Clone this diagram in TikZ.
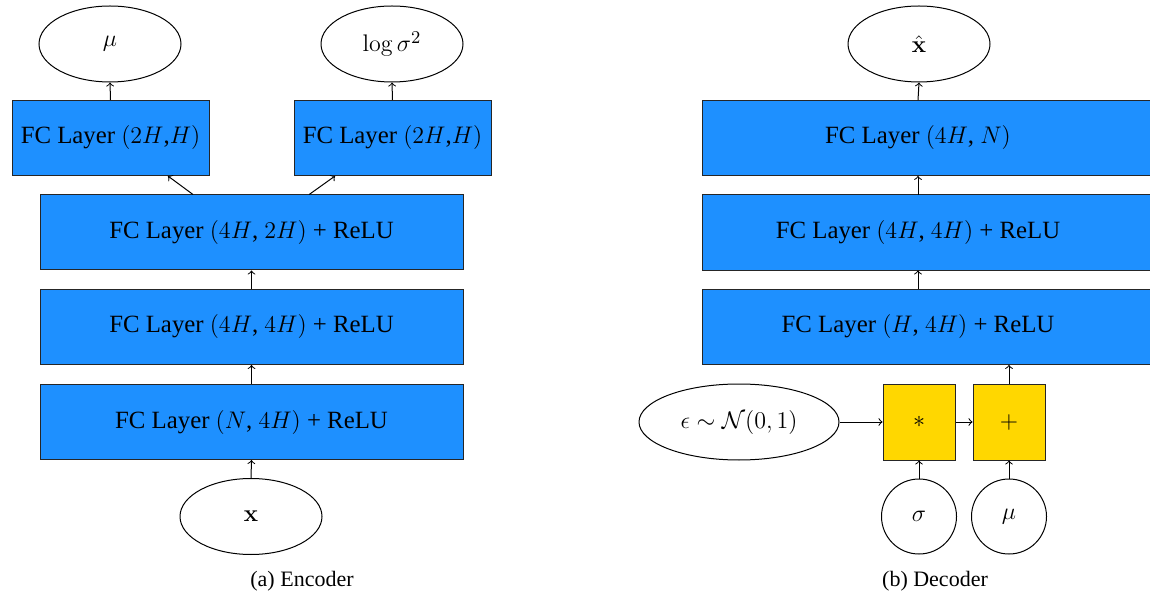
\documentclass[tikz,border=0pt]{standalone}
\usepackage[no-math]{fontspec}
\setmainfont{Liberation Serif}
\usetikzlibrary{shapes.geometric,calc,backgrounds}
\begin{document}
\begin{tikzpicture}[x=0.5pt,y=-0.5pt,
  every node/.style={font=\fontsize{12.4}{15}\selectfont},
  layer/.style={draw=black!85,fill=fcblue,line width=0.5pt,minimum width=211.5pt,minimum height=37.5pt,inner sep=0pt},
  smalllayer/.style={layer,minimum width=98.5pt},
  declayer/.style={minimum width=215pt,minimum height=37.5pt,inner sep=0pt},
  op/.style={draw=black!85,fill=opyellow,line width=0.5pt,minimum width=36pt,minimum height=38pt,inner sep=0pt},
  oval/.style={draw,ellipse,line width=0.5pt,minimum width=71pt,minimum height=38pt,inner sep=0pt},
  circ/.style={draw,circle,line width=0.5pt,minimum size=37.5pt,inner sep=0pt},
  conn/.style={->,line width=0.5pt},
  captext/.style={font=\fontsize{11}{13}\selectfont}]
\definecolor{fcblue}{RGB}{30,144,255}
\definecolor{opyellow}{RGB}{255,215,0}
\useasboundingbox (0,0) rectangle (1150,598);
% Encoder
\node[oval] (mu) at (110,44) {$\mu$};
\node[oval] (logvar) at (392,44) {$\log\sigma^2$};
\node[smalllayer] (fl) at (110.5,138) {FC Layer $(2H$,$H)$};
\node[smalllayer] (fr) at (392.5,138) {FC Layer $(2H$,$H)$};
\node[layer] (e3) at (251.5,232.5) {FC Layer $(4H$, $2H)$ + ReLU};
\node[layer] (e2) at (251.5,327) {FC Layer $(4H$, $4H)$ + ReLU};
\node[layer] (e1) at (251.5,422) {FC Layer $(N$, $4H)$ + ReLU};
\node[oval] (x) at (251,516.5) {$\mathbf{x}$};
\node[captext] (capa) at (302,581) {(a) Encoder};
\draw[conn] (x.north) -- (e1.south);
\draw[conn] (e1.north) -- (e2.south);
\draw[conn] (e2.north) -- (e3.south);
\draw[conn] ($(e3.north west)!0.362!(e3.north east)$) -- ($(fl.south west)!0.79!(fl.south east)$);
\draw[conn] ($(e3.north west)!0.636!(e3.north east)$) -- ($(fr.south west)!0.21!(fr.south east)$);
\draw[conn] (fl.north) -- (mu.south);
\draw[conn] (fr.north) -- (logvar.south);
% Decoder
\node[oval] (xhat) at (919,44) {$\hat{\mathbf{x}}$};
\node[declayer] (d3) at (918,138) {FC Layer $(4H$, $N)$};
\node[declayer] (d2) at (918,232.5) {FC Layer $(4H$, $4H)$ + ReLU};
\node[declayer] (d1) at (918,327) {FC Layer $(H$, $4H)$ + ReLU};
\begin{scope}[on background layer]
  \foreach \n in {d1,d2,d3}
    \draw[draw=black!85,fill=fcblue,line width=0.5pt] (\n.north west) rectangle ([xshift=40pt]\n.south east);
\end{scope}
\node[op] (mul) at (919,422) {$*$};
\node[op] (add) at (1009,422) {$+$};
\node[oval,minimum width=100pt] (eps) at (739,422) {$\epsilon\sim\mathcal{N}(0,1)$};
\node[circ] (sig) at (919,516.5) {$\sigma$};
\node[circ] (mu2) at (1009,516.5) {$\mu$};
\node[captext] (capb) at (935,581) {(b) Decoder};
\draw[conn] (eps.east) -- (mul.west);
\draw[conn] (mul.east) -- (add.west);
\draw[conn] (sig.north) -- (mul.south);
\draw[conn] (mu2.north) -- (add.south);
\draw[conn] (add.north) -- (add.north |- d1.south);
\draw[conn] (d1.north) -- (d2.south);
\draw[conn] (d2.north) -- (d3.south);
\draw[conn] (d3.north) -- (xhat.south);
\end{tikzpicture}
\end{document}
